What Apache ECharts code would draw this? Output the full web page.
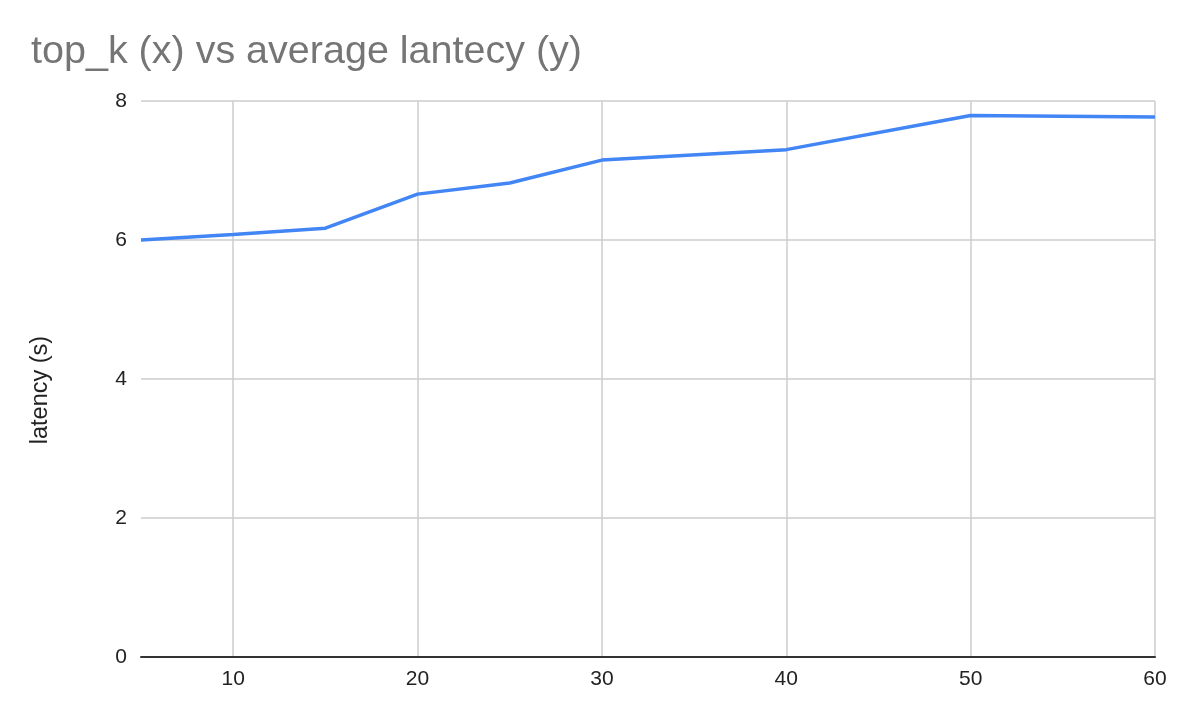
<!DOCTYPE html>
<html>
<head>
<meta charset="utf-8">
<script src="https://cdn.jsdelivr.net/npm/echarts@6/dist/echarts.min.js"></script>
<style>
html,body{margin:0;padding:0;background:#fff;}
#chart{width:1186px;height:714px;}
</style>
</head>
<body>
<div id="chart"></div>
<script>
const titleText = 'top_k (x) vs average lantecy (y)';
const yAxisName = 'latency (s)';
const topK = [5, 10, 15, 20, 25, 30, 40, 50, 60];
const latency = [6.0, 6.08, 6.17, 6.66, 6.82, 7.15, 7.30, 7.79, 7.77];
const xTicks = [10, 20, 30, 40, 50, 60];
const yTicks = [0, 2, 4, 6, 8];

const FONT = '"Liberation Sans", Arial, sans-serif';
const chart = echarts.init(document.getElementById('chart'), null, {renderer: 'canvas'});
chart.setOption({
  animation: false,
  backgroundColor: '#ffffff',
  title: {
    text: titleText,
    left: 26,
    top: 27,
    textStyle: {fontFamily: FONT, fontSize: 39.5, fontWeight: 'normal', color: '#757575'}
  },
  grid: {left: 141, right: 31, top: 101, bottom: 57, containLabel: false},
  xAxis: {
    type: 'value',
    min: 5,
    max: 60,
    axisLine: {show: true, onZero: false, lineStyle: {color: '#333333', width: 2}},
    axisTick: {show: false, customValues: xTicks},
    axisLabel: {customValues: xTicks, margin: 12, fontFamily: FONT, fontSize: 21, color: '#222222'},
    splitLine: {show: true, lineStyle: {color: '#cccccc', width: 1.5}}
  },
  yAxis: {
    type: 'value',
    min: yTicks[0],
    max: yTicks[yTicks.length - 1],
    interval: 2,
    name: yAxisName,
    nameLocation: 'middle',
    nameRotate: 90,
    nameGap: 88,
    nameTextStyle: {fontFamily: FONT, fontSize: 23.5, color: '#222222', padding: [0, 22, 0, 0]},
    axisLine: {show: false},
    axisTick: {show: false},
    axisLabel: {margin: 14, fontFamily: FONT, fontSize: 21, color: '#222222'},
    splitLine: {show: true, lineStyle: {color: '#cccccc', width: 1.5}}
  },
  series: [{
    type: 'line',
    data: topK.map((x, i) => [x, latency[i]]),
    showSymbol: false,
    symbol: 'none',
    lineStyle: {color: '#4285F4', width: 3.5},
    itemStyle: {color: '#4285F4'},
    z: 5
  }]
});
</script>
</body>
</html>
